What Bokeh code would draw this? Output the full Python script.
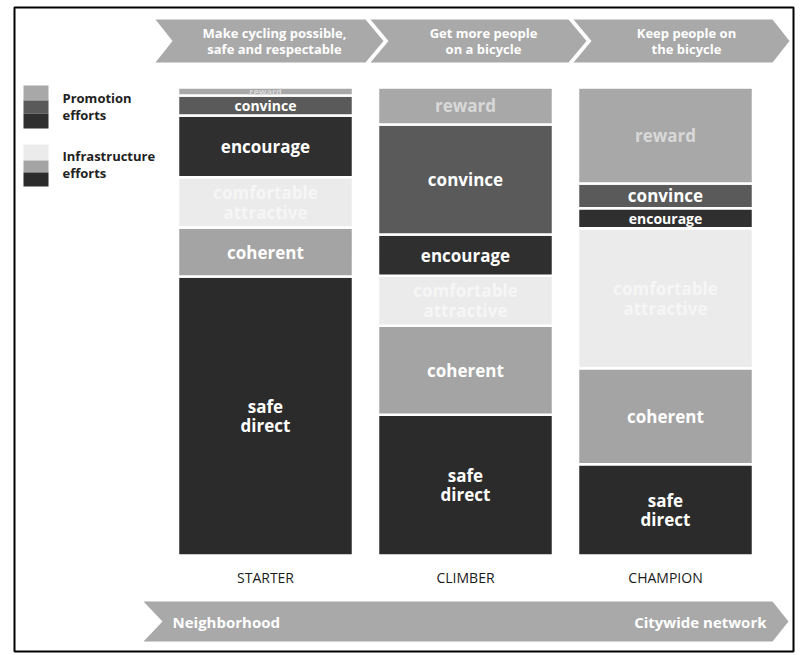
from bokeh.plotting import figure
from bokeh.models import Range1d, ColumnDataSource
from bokeh.embed import file_html
from bokeh.resources import INLINE
from bokeh.core.properties import value

# ---------------- data ----------------
stages = ["STARTER", "CLIMBER", "CHAMPION"]
segments = ["safe_direct", "coherent", "comfortable", "encourage", "convince", "reward"]
segment_labels = ["safe\ndirect", "coherent", "comfortable\nattractive", "encourage", "convince", "reward"]
safe_direct = [59.6, 30.1, 19.5]
coherent = [10.5, 19.0, 20.5]
comfortable = [10.7, 10.7, 29.9]
encourage = [13.2, 8.8, 4.3]
convince = [4.3, 23.5, 5.3]
reward = [1.7, 7.9, 20.5]
top_banner_texts = ["Make cycling possible,\nsafe and respectable",
                    "Get more people\non a bicycle",
                    "Keep people on\nthe bicycle"]
bottom_banner_texts = ["Neighborhood", "Citywide network"]
legend_texts = ["Promotion\nefforts", "Infrastructure\nefforts"]

# ---------------- style ----------------
seg_colors = ["#2b2b2b", "#a4a4a4", "#ebebeb", "#2f2f2f", "#5a5a5a", "#a8a8a8"]
label_colors = ["white", "white", "#f6f6f6", "white", "white", "#d8d8d8"]
banner_fill = "#a9a9a9"
FONT = "Open Sans"

W, H = 802, 655
STEP = 200.0                # px between bar centres
X0 = -265 / STEP            # data x at left edge of canvas
PXU = 4.68                  # px per percentage point
Y1 = 100 + 87 / PXU         # data y at top edge of canvas
Y0 = Y1 - H / PXU


def fx(sx):   # canvas pixel -> data x (decorations only)
    return X0 + sx / STEP


def fy(sy):   # canvas pixel -> data y (decorations only)
    return Y1 - sy / PXU


p = figure(width=W, height=H, output_backend="svg", toolbar_location=None,
           x_range=Range1d(X0, X0 + W / STEP), y_range=Range1d(Y0, Y1),
           x_axis_location=None, y_axis_location=None, min_border=0)
p.grid.visible = False
p.outline_line_color = None
p.background_fill_color = "white"
p.border_fill_color = "white"

# ---------------- frame ----------------
p.quad(left=[fx(14)], right=[fx(793)], top=[fy(7)], bottom=[fy(651)],
       fill_color=None, line_color="black", line_width=2)

# ---------------- stacked bars ----------------
data = dict(x=list(range(len(stages))), safe_direct=safe_direct, coherent=coherent,
            comfortable=comfortable, encourage=encourage, convince=convince, reward=reward)
src = ColumnDataSource(data)
p.vbar_stack(segments, x="x", width=0.875, color=seg_colors, source=src,
             line_color="white", line_width=2.5)

# segment labels
tx, ty, tt, tc, ts = [], [], [], [], []
series = [safe_direct, coherent, comfortable, encourage, convince, reward]
for i in range(len(stages)):
    base = 0.0
    for k, vals in enumerate(series):
        v = vals[i]
        tx.append(i)
        ty.append(base + v / 2)
        tt.append(segment_labels[k])
        tc.append(label_colors[k])
        h = v * PXU
        ts.append("17px" if h >= 22 else ("14px" if h >= 14 else "9px"))
        base += v
p.text(x=tx, y=ty, text=tt, text_color=tc, text_font_size=ts,
       text_font=value(FONT), text_font_style="bold", text_align="center",
       text_baseline="middle", text_line_height=0.85)

# category labels
p.text(x=list(range(len(stages))), y=[fy(577)] * len(stages), text=stages,
       text_color="#1a1a1a", text_font=value(FONT), text_font_size="14px",
       text_align="center", text_baseline="middle")

# ---------------- top banners ----------------
bt, bb, bm = 19, 62, 40.5
banners = [(155, 365, 383, 172), (370, 568, 586, 388), (573, 772, 789, 591)]
xs, ys = [], []
for (l, r, tip, notch) in banners:
    xs.append([fx(l), fx(r), fx(tip), fx(r), fx(l), fx(notch)])
    ys.append([fy(bt), fy(bt), fy(bm), fy(bb), fy(bb), fy(bm)])
p.patches(xs, ys, fill_color=banner_fill, line_color=None)
centers = [(l + tip) / 2 + 5 for (l, r, tip, notch) in banners]
p.text(x=[fx(c) for c in centers], y=[fy(bm)] * 3, text=top_banner_texts,
       text_color="white", text_font=value(FONT), text_font_style="bold",
       text_font_size="13px", text_align="center", text_baseline="middle",
       text_line_height=0.85)

# ---------------- bottom banner ----------------
b_top, b_bot, b_mid = 601, 641, 621
p.patch([fx(143), fx(772), fx(788), fx(772), fx(143), fx(162)],
        [fy(b_top), fy(b_top), fy(b_mid), fy(b_bot), fy(b_bot), fy(b_mid)],
        fill_color=banner_fill, line_color=None)
p.text(x=[fx(172), fx(766)], y=[fy(b_mid)] * 2, text=bottom_banner_texts,
       text_color="white", text_font=value(FONT), text_font_style="bold",
       text_font_size="15px", text_align=["left", "right"], text_baseline="middle")

# ---------------- legend ----------------
# promotion: reward / convince / encourage ; infrastructure: comfortable / coherent / safe
p.quad(left=[fx(23)] * 3, right=[fx(48)] * 3,
       top=[fy(85), fy(100), fy(113)], bottom=[fy(100), fy(113), fy(128)],
       fill_color=[seg_colors[5], seg_colors[4], seg_colors[3]], line_color=None)
p.quad(left=[fx(23)] * 3, right=[fx(48)] * 3,
       top=[fy(144), fy(160), fy(172)], bottom=[fy(160), fy(172), fy(186)],
       fill_color=[seg_colors[2], seg_colors[1], seg_colors[0]], line_color=None)
p.text(x=[fx(62), fx(62)], y=[fy(106), fy(164)], text=legend_texts,
       text_color="#222222", text_font=value(FONT), text_font_style="bold",
       text_font_size="13px", text_align="left", text_baseline="middle",
       text_line_height=0.95)

open("out.html", "w").write(file_html(p, INLINE))
